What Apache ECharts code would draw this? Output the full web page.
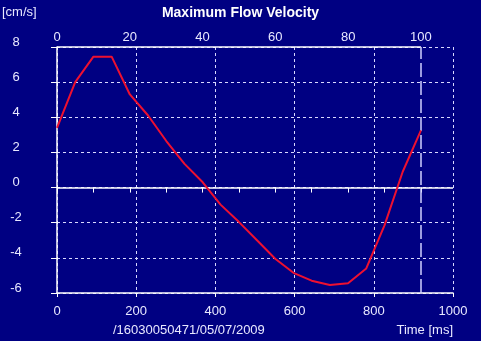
<!DOCTYPE html>
<html>
<head>
<meta charset="utf-8">
<script src="https://cdn.jsdelivr.net/npm/echarts@6/dist/echarts.min.js"></script>
<style>
html,body{margin:0;padding:0;background:#000082;}
#chart{width:481px;height:341px;}
</style>
</head>
<body>
<div id="chart"></div>
<script>
// Data
var timeMs = [0, 46, 92, 138, 184, 230, 276, 322, 368, 413, 459, 505, 551, 597, 643, 689, 735, 781, 827, 873, 919];
var velocity = [3.4, 6.0, 7.45, 7.45, 5.3, 4.1, 2.65, 1.35, 0.3, -0.97, -1.95, -3.0, -4.05, -4.85, -5.3, -5.55, -5.45, -4.6, -2.15, 0.9, 3.25];
var cycleMs = 919;
var timeTicks = [0, 200, 400, 600, 800, 1000];
var percentTicks = [0, 20, 40, 60, 80, 100];
var velocityTicks = [-6, -4, -2, 0, 2, 4, 6, 8];

var fontFamily = '"Liberation Sans", Arial, sans-serif';
var textColor = '#e8e8ff';
var gridColor = '#d8d8ff';

var chart = echarts.init(document.getElementById('chart'), null, {renderer: 'canvas'});
var data = timeMs.map(function (t, i) { return [t, velocity[i]]; });
var yMin = velocityTicks[0], yMax = velocityTicks[velocityTicks.length - 1];

chart.setOption({
  backgroundColor: '#000082',
  animation: false,
  title: [
    {text: 'Maximum Flow Velocity', left: 'center', top: 6, padding: 0,
     textStyle: {color: '#ffffff', fontSize: 14, fontWeight: 'bold', fontFamily: fontFamily}},
    {text: '[cm/s]', left: 2, top: 6, padding: 0,
     textStyle: {color: textColor, fontSize: 13, fontWeight: 'normal', fontFamily: fontFamily}},
    {text: '/16030050471/05/07/2009', left: 113, top: 324, padding: 0,
     textStyle: {color: textColor, fontSize: 13, fontWeight: 'normal', fontFamily: fontFamily}},
    {text: 'Time [ms]', right: 28, top: 324, padding: 0,
     textStyle: {color: textColor, fontSize: 13, fontWeight: 'normal', fontFamily: fontFamily}}
  ],
  grid: {left: 57, right: 28, top: 47, bottom: 48, containLabel: false},
  xAxis: [
    {
      type: 'value', position: 'bottom', min: timeTicks[0], max: timeTicks[timeTicks.length - 1], interval: 200,
      axisLine: {show: true, onZero: false, lineStyle: {color: '#ffffff', width: 1.5}},
      axisTick: {show: true, length: 4, lineStyle: {color: '#ffffff'}},
      axisLabel: {color: textColor, fontSize: 13, fontFamily: fontFamily, margin: 12,
        formatter: function (v) { return String(v); }},
      splitLine: {show: true, lineStyle: {color: gridColor, type: [3, 3], width: 1}}
    },
    {
      type: 'value', position: 'top', min: 0, max: 100 * 1000 / cycleMs, interval: 10,
      axisLine: {show: false},
      axisTick: {show: true, inside: true, length: 5, lineStyle: {color: '#ffffff'}},
      axisLabel: {color: textColor, fontSize: 13, fontFamily: fontFamily, margin: 3, showMaxLabel: false,
        formatter: function (v) { return percentTicks.indexOf(Math.round(v)) >= 0 && Math.abs(v - Math.round(v)) < 1e-6 ? String(Math.round(v)) : ''; }},
      splitLine: {show: false}
    }
  ],
  yAxis: {
    type: 'value', min: yMin, max: yMax, interval: 2,
    axisLine: {show: true, onZero: false, lineStyle: {color: '#ffffff', width: 1.5}},
    axisTick: {show: true, length: 6, lineStyle: {color: '#ffffff'}},
    axisLabel: {color: textColor, fontSize: 13, fontFamily: fontFamily, margin: 41, align: 'center', verticalAlign: 'bottom', lineHeight: 10},
    splitLine: {show: true, lineStyle: {color: gridColor, type: [3, 3], width: 1}}
  },
  series: [
    {
      type: 'line', xAxisIndex: 0, data: data, showSymbol: false, smooth: false,
      lineStyle: {color: '#ee1030', width: 2},
      z: 5,
      markLine: {
        silent: true, symbol: 'none', label: {show: false},
        data: [
          [{coord: [0, 0], lineStyle: {color: '#ffffff', type: 'solid', width: 1.5}}, {coord: [timeTicks[timeTicks.length - 1], 0]}],
          [{coord: [0, yMax], lineStyle: {color: '#ffffff', type: 'solid', width: 1.5}}, {coord: [cycleMs, yMax]}],
          [{coord: [cycleMs, yMin], lineStyle: {color: '#d0d0ff', type: [14, 4], width: 1.5}}, {coord: [cycleMs, yMax]}]
        ]
      }
    }
  ]
});
</script>
</body>
</html>
